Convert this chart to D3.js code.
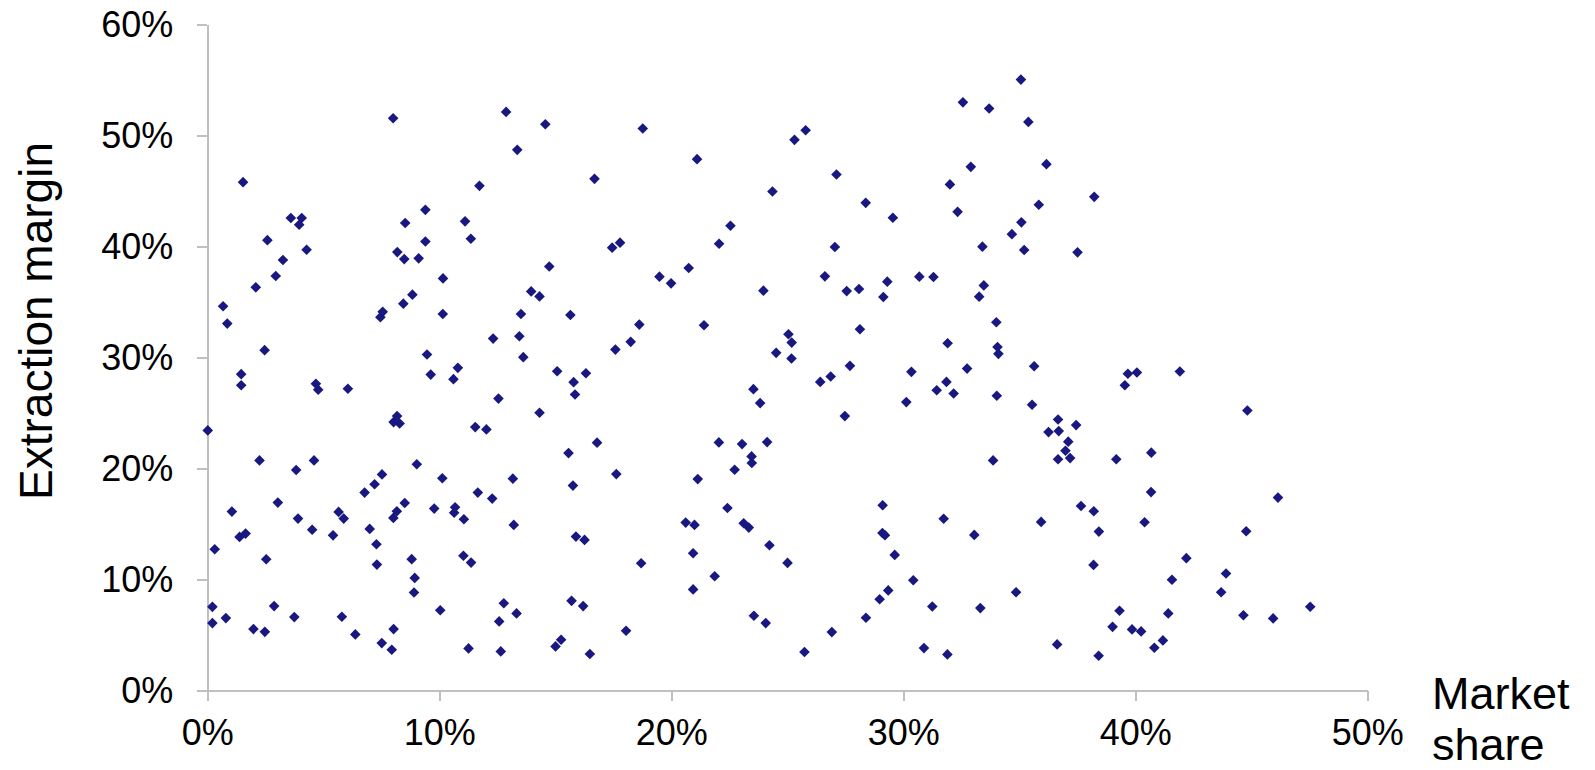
<!DOCTYPE html>
<html>
<head>
<meta charset="utf-8">
<script src="https://cdn.jsdelivr.net/npm/d3@7"></script>
<style>
  body { margin: 0; background: #fff; }
  svg { display: block; font-family: "Liberation Sans", Arial, sans-serif; }
  .axis path, .axis line { stroke: #c0c0c0; stroke-width: 1.5; shape-rendering: crispEdges; }
  .axis text { fill: #000; font-size: 36px; font-family: "Liberation Sans", Arial, sans-serif; }
  .title { font-size: 46px; fill: #000; }
  .title.x { font-size: 45px; }
</style>
</head>
<body>
<svg width="1595" height="770"></svg>
<script>
// tick values (percent)
var xTicks = [0, 10, 20, 30, 40, 50],
    yTicks = [0, 10, 20, 30, 40, 50, 60];

// market share (%), one entry per point
var marketShare = [
  0.02, 0.32, 0.22, 0.22, 0.68, 0.86, 0.80, 1.06, 1.46, 1.46,
  1.54, 1.39, 1.65, 1.99, 2.09, 2.25, 2.47, 2.54, 2.48, 2.59,
  3.04, 2.88, 2.95, 3.26, 3.60, 3.75, 3.83, 3.91, 3.96, 4.07,
  4.28, 4.52, 4.60, 4.68, 4.78, 5.42, 5.66, 5.88, 5.80, 6.06,
  6.38, 6.78, 7.00, 7.29, 7.31, 7.21, 7.53, 7.46, 7.56, 7.52,
  7.95, 8.01, 8.03, 8.03, 8.18, 8.29, 8.02, 8.17, 8.19, 8.49,
  8.53, 8.45, 8.51, 8.84, 8.81, 8.94, 8.91, 9.03, 9.11, 9.40,
  9.40, 9.47, 9.63, 9.78, 10.04, 10.13, 10.15, 10.16, 10.61, 10.68,
  10.64, 10.80, 11.11, 11.06, 11.04, 11.36, 11.26, 11.37, 11.55, 11.66,
  11.73, 12.03, 12.28, 12.32, 12.55, 12.58, 12.65, 12.78, 12.88, 13.17,
  13.21, 13.36, 13.45, 13.33, 13.52, 13.62, 13.96, 14.32, 14.32, 14.57,
  14.74, 15.01, 15.08, 15.25, 15.57, 15.65, 15.70, 15.76, 15.79, 15.85,
  15.89, 16.26, 16.20, 16.32, 16.49, 16.69, 16.80, 17.45, 17.59, 17.63,
  17.79, 18.05, 18.25, 18.62, 18.70, 18.77, 19.49, 19.99, 20.62, 20.75,
  21.00, 20.94, 20.94, 21.11, 21.14, 21.41, 21.87, 22.05, 22.06, 22.42,
  22.55, 22.73, 23.05, 23.12, 23.34, 23.46, 23.47, 23.56, 23.54, 23.83,
  23.97, 24.07, 24.13, 24.23, 24.36, 24.52, 25.01, 25.05, 25.19, 25.18,
  25.31, 25.79, 25.74, 26.42, 26.62, 26.87, 26.92, 27.05, 27.12, 27.48,
  27.56, 27.70, 28.09, 28.13, 28.39, 28.38, 29.11, 29.14, 29.10, 29.21,
  28.98, 29.31, 29.35, 29.55, 29.63, 30.13, 30.35, 30.43, 30.69, 30.89,
  31.25, 31.30, 31.44, 31.74, 31.91, 31.86, 31.90, 32.01, 32.17, 32.34,
  32.57, 32.75, 32.91, 33.06, 33.27, 33.32, 33.47, 33.41, 33.70, 33.87,
  34.01, 34.06, 34.10, 34.03, 34.68, 34.86, 35.09, 35.07, 35.21, 35.39,
  35.64, 35.55, 35.84, 35.94, 36.17, 36.26, 36.70, 36.63, 36.67, 36.67,
  37.11, 36.99, 37.19, 37.45, 37.51, 37.66, 38.23, 38.20, 38.21, 38.42,
  38.43, 39.02, 39.18, 39.32, 39.55, 39.68, 39.86, 40.07, 40.25, 40.40,
  40.68, 40.69, 40.82, 41.19, 41.42, 41.58, 41.92, 42.20, 43.70, 43.91,
  44.66, 44.78, 44.83, 45.94, 46.15, 47.54
];

// extraction margin (%) in the same order
var extractionMargin = [
  23.44, 12.74, 7.55, 6.09, 34.62, 33.06, 6.54, 16.13, 28.51, 27.51,
  45.80, 13.85, 14.15, 5.55, 36.33, 20.74, 30.67, 11.84, 5.30, 40.58,
  16.94, 7.62, 37.35, 38.79, 42.57, 6.63, 19.88, 15.50, 41.96, 42.57,
  39.71, 14.50, 20.74, 27.64, 27.10, 13.99, 16.10, 15.50, 6.66, 27.19,
  5.07, 17.84, 14.57, 13.19, 11.36, 18.59, 19.48, 33.63, 34.12, 4.29,
  3.69, 51.56, 5.55, 24.19, 24.73, 24.07, 15.56, 16.16, 39.50, 38.87,
  42.12, 34.86, 16.90, 35.67, 11.85, 10.16, 8.84, 20.39, 38.94, 40.46,
  43.31, 30.28, 28.47, 16.40, 7.25, 19.13, 33.93, 37.13, 28.06, 16.52,
  16.03, 29.08, 42.27, 15.44, 12.15, 40.70, 3.81, 11.54, 23.74, 17.84,
  45.47, 23.53, 17.30, 31.71, 26.31, 6.24, 3.54, 7.88, 52.13, 19.10,
  14.93, 48.71, 31.92, 6.96, 33.93, 30.04, 35.96, 25.03, 35.51, 51.02,
  38.21, 3.99, 28.77, 4.59, 21.40, 33.84, 8.09, 18.47, 27.79, 26.68,
  13.88, 13.58, 7.62, 28.59, 3.30, 46.10, 22.34, 39.90, 30.72, 19.51,
  40.35, 5.40, 31.42, 32.97, 11.48, 50.63, 37.29, 36.69, 15.14, 38.07,
  14.93, 12.38, 9.12, 47.87, 19.06, 32.91, 10.31, 22.36, 40.25, 16.45,
  41.87, 19.90, 22.21, 15.08, 14.69, 21.10, 20.51, 6.75, 27.16, 25.90,
  36.03, 6.09, 22.39, 13.10, 44.96, 30.43, 11.51, 32.10, 31.35, 29.92,
  49.61, 50.48, 3.48, 27.81, 37.32, 28.30, 5.28, 39.96, 46.49, 24.73,
  35.99, 29.26, 36.18, 32.55, 6.57, 43.94, 16.70, 35.46, 14.20, 14.00,
  8.24, 36.84, 9.03, 42.60, 12.23, 25.99, 28.72, 9.95, 37.29, 3.84,
  7.58, 37.26, 27.06, 15.49, 31.29, 27.81, 3.27, 45.60, 26.77, 43.13,
  52.99, 29.01, 47.18, 14.03, 35.49, 7.44, 36.50, 39.99, 52.43, 20.74,
  33.18, 30.96, 30.34, 26.56, 41.12, 8.87, 42.18, 55.04, 39.69, 51.23,
  29.22, 25.75, 43.77, 15.20, 47.42, 23.29, 23.38, 4.17, 20.84, 24.43,
  22.43, 21.61, 20.95, 23.92, 39.48, 16.64, 44.48, 11.33, 16.16, 3.15,
  14.33, 5.75, 20.84, 7.20, 27.51, 28.54, 5.52, 28.66, 5.34, 15.17,
  17.89, 21.44, 3.87, 4.53, 6.96, 9.99, 28.75, 11.94, 8.87, 10.56,
  6.80, 14.36, 25.24, 6.51, 17.39, 7.56
];

var svg = d3.select("svg"),
    plotLeft = 207.3, plotRight = 1367.3,
    plotTop = 24.5, plotBottom = 690.7;

var x = d3.scaleLinear()
    .domain([0, 50])
    .range([plotLeft, plotRight]);

var y = d3.scaleLinear()
    .domain([0, 60])
    .range([plotBottom, plotTop]);

var pct = function(d) { return d + "%"; };

// axes
svg.append("g")
    .attr("class", "axis axis--y")
    .attr("transform", "translate(" + plotLeft + ",0)")
    .call(d3.axisLeft(y).tickValues(yTicks).tickFormat(pct)
        .tickSize(10).tickSizeOuter(0).tickPadding(24));

svg.append("g")
    .attr("class", "axis axis--x")
    .attr("transform", "translate(0," + plotBottom + ")")
    .call(d3.axisBottom(x).tickValues(xTicks).tickFormat(pct)
        .tickSize(10).tickSizeOuter(0).tickPadding(19));

// points
var data = marketShare.map(function(d, i) { return [d, extractionMargin[i]]; });

svg.append("g")
    .selectAll("path")
    .data(data)
    .enter().append("path")
    .attr("d", d3.symbol().type(d3.symbolDiamond2).size(72))
    .attr("transform", function(d) { return "translate(" + x(d[0]) + "," + y(d[1]) + ")"; })
    .attr("fill", "#181880");

// axis titles
svg.append("text")
    .attr("class", "title")
    .attr("text-anchor", "middle")
    .attr("transform", "translate(52,321)rotate(-90)")
    .text("Extraction margin");

svg.append("text")
    .attr("class", "title x")
    .attr("x", 1432)
    .attr("y", 709)
    .text("Market");

svg.append("text")
    .attr("class", "title x")
    .attr("x", 1432)
    .attr("y", 760)
    .text("share");
</script>
</body>
</html>
